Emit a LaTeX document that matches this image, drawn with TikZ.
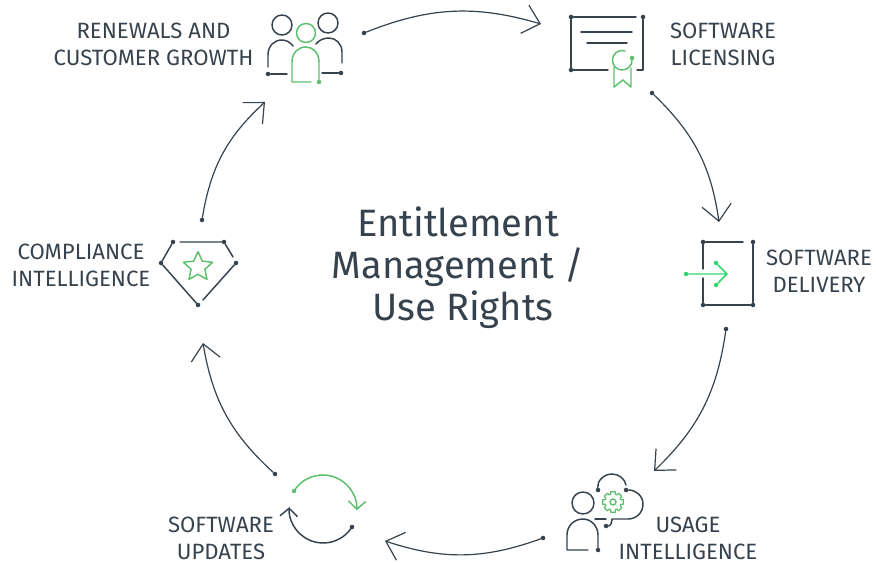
\documentclass[tikz,border=0pt]{standalone}
\usepackage{fontspec}
\setmainfont{Fira Sans}
\usepackage{tikz}
\usetikzlibrary{shapes.geometric, arrows.meta}
\definecolor{slate}{HTML}{36424D}
\definecolor{leaf}{HTML}{5CBF6A}
\definecolor{mint}{HTML}{2FD86F}
\tikzstyle{arrow} = [slate,line width=0.9pt,-{Straight Barb[length=12pt,width=22pt,line width=0.9pt]}]
\tikzstyle{smallarrow} = [line width=1.1pt,-{Straight Barb[length=6pt,width=13pt,line width=1.1pt]}]

\begin{document}
\begin{tikzpicture}[x=0.75pt,y=-0.75pt,line cap=round,line join=round,icon/.style={slate,line width=1.1pt},green icon/.style={leaf,line width=1.1pt},dot/.style={circle,fill=slate,inner sep=0pt,minimum size=3.4pt},green dot/.style={circle,fill=leaf,inner sep=0pt,minimum size=3.4pt},label/.style={font=\fontsize{16.6}{20}\selectfont,text=slate,align=center,inner sep=0pt}]
            \useasboundingbox (0,0) rectangle (876,563);
            % centre text
            \node[font=\fontsize{28.6}{31.5}\selectfont,text=slate,align=center] (title) at (458,268) {Entitlement\\Management /\\~Use Rights};
            % labels
            \node[label] (renewals) at (153.5,44.5) {RENEWALS AND\\CUSTOMER GROWTH};
            \node[label] (licensing) at (723,44.5) {SOFTWARE\\LICENSING};
            \node[label] (delivery) at (819,271.5) {SOFTWARE\\DELIVERY};
            \node[label] (usage) at (688,538.5) {USAGE\\INTELLIGENCE};
            \node[label] (updates) at (221,538.5) {SOFTWARE\\UPDATES};
            \node[label] (compliance) at (81,265.5) {COMPLIANCE\\INTELLIGENCE};
            % ring
            \node[dot] (a1) at (364,33) {};
            \coordinate (b1) at (541,24);
            \node[dot] (a2) at (652,93) {};
            \coordinate (b2) at (719,222);
            \node[dot] (a3) at (726,329) {};
            \coordinate (b3) at (654,471);
            \node[dot] (a4) at (543,538) {};
            \coordinate (b4) at (385,541);
            \node[dot] (a5) at (275,474) {};
            \coordinate (b5) at (203,343);
            \node[dot] (a6) at (202,220) {};
            \coordinate (b6) at (265,102);
            \draw[arrow] (a1) to[bend left=19] (b1);
            \draw[arrow] (a2) to[bend left=19] (b2);
            \draw[arrow] (a3) to[bend left=19] (b3);
            \draw[arrow] (a4) to[bend left=19] (b4);
            \draw[arrow] (a5) to[bend left=19] (b5);
            \draw[arrow] (a6) to[bend left=19] (b6);
            % customers
            \draw[icon] (282,25) circle[radius=10] (328,23) circle[radius=10];
            \draw[icon] (268,67) -- (268,55) .. controls (268,46) and (274,40) .. (282,40) .. controls (286,40) and (290,42) .. (293,46);
            \draw[icon] (342,63) -- (342,52) .. controls (342,44) and (336,38) .. (329,38) .. controls (324,38) and (319,40) .. (316,44);
            \node[dot] (c1) at (268,74) {};
            \node[dot] (c2) at (341,73) {};
            \draw[icon] (c1) -- (287,74) (c2) -- (322,73);
            \draw[green icon] (306,33) circle[radius=9.5];
            \node[green dot] (c3) at (319,82) {};
            \draw[green icon] (311,82) -- (292,82) -- (292,62) .. controls (292,53) and (298,47) .. (306,47) .. controls (313,47) and (319,53) .. (319,62) -- (c3);
            % certificate
            \node[dot] (l1) at (571,17) {};
            \node[dot] (l2) at (643,17) {};
            \node[dot] (l3) at (571,70) {};
            \draw[icon] (l1) -- (636,17) (l2) -- (643,70) -- (637,70) (l1) -- (l3) -- (608,70);
            \draw[icon] (581,32) -- (632,32) (587,43) -- (627,43);
            \node[green dot] (l4) at (632,58) {};
            \draw[green icon] (625,51) .. controls (618,49) and (612.5,54) .. (612.5,60) .. controls (612.5,66) and (617,70) .. (622,70) .. controls (628,70) and (632,65) .. (l4);
            \draw[green icon] (614,67) -- (614,87) -- (623,80) -- (631,87) -- (631,68);
            % door
            \node[dot] (d1) at (703,242) {};
            \node[dot] (d2) at (753,242) {};
            \node[dot] (d3) at (703,305) {};
            \node[dot] (d4) at (753,305) {};
            \draw[icon] (d1) -- (743,242) (d2) -- (d4) -- (d3) -- (703,278) (d1) -- (703,269);
            \node[circle,fill=mint,inner sep=0pt,minimum size=3.4pt] (d5) at (686,274) {};
            \node[circle,fill=mint,inner sep=0pt,minimum size=3.4pt] (d6) at (716,263) {};
            \node[circle,fill=mint,inner sep=0pt,minimum size=3.4pt] (d7) at (716,285) {};
            \draw[mint,line width=1.1pt] (d5) -- (727,274) (d6) -- (727,274) -- (d7);
            % person and cloud
            \draw[icon] (583,503) circle[radius=11];
            \node[dot] (u1) at (598,550) {};
            \draw[icon] (588,550) -- (567,550) -- (567,535) .. controls (567,526) and (574,519) .. (583,519) .. controls (591,519) and (598,526) .. (598,535) -- (u1);
            \node[dot] (u2) at (598,490) {};
            \node[dot] (u3) at (626,490) {};
            \node[dot] (u4) at (606,526) {};
            \draw[icon] (u2) .. controls (597,481) and (604,474) .. (612,474) .. controls (619,474) and (625,479) .. (626,485);
            \draw[icon] (u3) .. controls (636,490) and (643,496) .. (643,504) .. controls (643,513) and (636,519) .. (628,519) -- (612,519) .. controls (612,523) and (610,526) .. (u4);
            \draw[icon] (595,519) -- (606,519);
            \draw[green icon] (613,502) circle[radius=3];
            \foreach \a in {0,45,...,315}
                \draw[leaf,line width=0.9pt,shift={(613,502)}] (\a-12:10.5) -- (\a+12:10.5) -- (\a+17:8) -- (\a+28:8) -- (\a+33:10.5);
            % refresh
            \node[green dot] (s1) at (294,491) {};
            \node[dot] (s2) at (352,527) {};
            \draw[smallarrow,leaf] (s1) arc[start angle=212,end angle=362,radius=34];
            \draw[smallarrow,slate] (s2) arc[start angle=32,end angle=183,radius=34];
            % gem
            \node[dot] (g1) at (173,242) {};
            \node[dot] (g2) at (224,242) {};
            \node[dot] (g3) at (161,263) {};
            \node[dot] (g4) at (236,263) {};
            \node[dot] (g5) at (198,305) {};
            \draw[icon] (180,242) -- (g2) -- (233,257) (g1) -- (g3) -- (g5) (g4) -- (203,300);
            \node[star,star points=5,star point ratio=2.1,draw=leaf,line width=1.1pt,inner sep=0pt,minimum size=23pt] (g6) at (198,267) {};
        \end{tikzpicture}
\end{document}
